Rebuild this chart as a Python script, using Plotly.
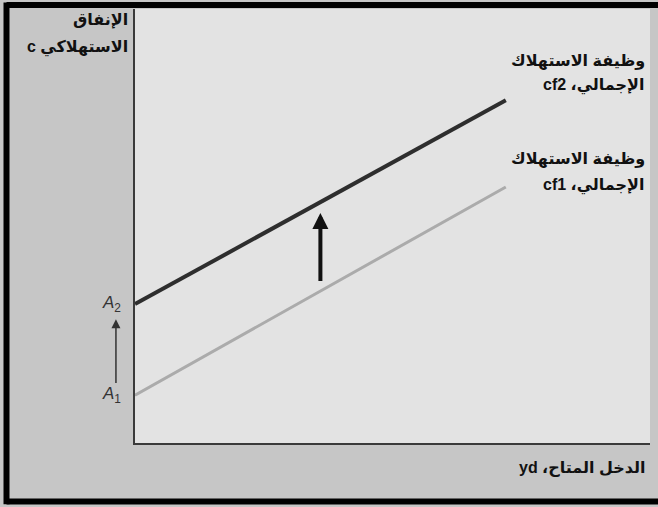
import plotly.graph_objects as go

# Data (arbitrary units: disposable income yd vs consumption c)
income = [0, 72]
cf1 = [11, 59]
cf2 = [32, 79]
shift_x = 36
shift_from = 37
shift_to = 53
A_subs = ["1", "2"]
A_values = [cf1[0], cf2[0]]

RLE, PDF = "\u202b", "\u202c"
label_line1 = "وظيفة الاستهلاك"
label_cf2_line2 = RLE + "الإجمالي، cf2" + PDF
label_cf1_line2 = RLE + "الإجمالي، cf1" + PDF
y_title_1 = "الإنفاق"
y_title_2 = RLE + "الاستهلاكي c" + PDF
x_title = RLE + "الدخل المتاح، yd" + PDF

FONT = "Liberation Sans, DejaVu Sans, sans-serif"
BOLD = dict(family=FONT, size=16, color="#111", weight="bold")

fig = go.Figure()
fig.add_trace(go.Scatter(x=income, y=cf1, mode="lines",
                         line=dict(color="#ababab", width=3), hoverinfo="skip"))
fig.add_trace(go.Scatter(x=income, y=cf2, mode="lines",
                         line=dict(color="#2e2e2e", width=4), hoverinfo="skip"))

ann = []
# upward shift arrow
ann.append(dict(x=shift_x, y=shift_to, ax=shift_x, ay=shift_from, xref="x", yref="y",
                axref="x", ayref="y", text="", showarrow=True, arrowhead=2,
                arrowsize=0.8, arrowwidth=4, arrowcolor="#111"))
# small A1 -> A2 arrow
ann.append(dict(x=-0.037, y=A_values[1] - 3.5, ax=0, ay=A_values[0] + 2.5, xref="paper", yref="y",
                ayref="y", text="", showarrow=True, arrowhead=2, arrowsize=1.2,
                arrowwidth=1.5, arrowcolor="#333"))
for sub, v in zip(A_subs, A_values):
    ann.append(dict(x=-0.068, y=v, xref="paper", yref="y",
                    text="<i>A</i><sub>" + sub + "</sub>",
                    showarrow=False, font=dict(family=FONT, size=17, color="#333")))
# line labels
for txt, yv in [(label_line1, cf2[1] + 9), (label_cf2_line2, cf2[1] + 3.3),
                (label_line1, cf1[1] + 6.5), (label_cf1_line2, cf1[1] + 0.4)]:
    ann.append(dict(x=0.995, y=yv, xref="paper", yref="y", text=txt,
                    xanchor="right", yanchor="middle", align="right", showarrow=False,
                    font=BOLD))
# axis titles
ann.append(dict(x=-0.01, y=0.975, xref="paper", yref="paper", text=y_title_1,
                xanchor="right", yanchor="middle", align="right", showarrow=False, font=BOLD))
ann.append(dict(x=-0.01, y=0.912, xref="paper", yref="paper", text=y_title_2,
                xanchor="right", yanchor="middle", align="right", showarrow=False, font=BOLD))
ann.append(dict(x=0.995, y=-0.058, xref="paper", yref="paper", text=x_title,
                xanchor="right", yanchor="middle", align="right", showarrow=False, font=BOLD))

# outer black frame (left, top, bottom; right side is cut off in the original)
fx0, fx1, fy0, fy1 = -0.2495, 1.1, -0.135, 1.009
frame = dict(color="#000", width=6)
shapes = [
    dict(type="line", xref="paper", yref="paper", x0=fx0, x1=fx0, y0=fy0 - 0.006, y1=fy1 + 0.006, line=frame),
    dict(type="line", xref="paper", yref="paper", x0=fx0, x1=fx1, y0=fy1, y1=fy1, line=frame),
    dict(type="line", xref="paper", yref="paper", x0=fx0, x1=fx1, y0=fy0, y1=fy0, line=frame),
]

fig.update_layout(
    width=658, height=507,
    margin=dict(l=135, r=8, t=9, b=64),
    paper_bgcolor="#c6c6c6", plot_bgcolor="#e3e3e3",
    showlegend=False,
    xaxis=dict(range=[0, 100], showgrid=False, zeroline=False, showticklabels=False,
               ticks="", showline=True, linecolor="#3a3a3a", linewidth=2),
    yaxis=dict(range=[0, 100], showgrid=False, zeroline=False, showticklabels=False,
               ticks="", showline=True, linecolor="#3a3a3a", linewidth=2),
    annotations=ann, shapes=shapes,
)
fig.write_html("out.html", config={"displayModeBar": False},
               post_script="document.body.style.margin='0';"
                           "document.body.style.overflow='hidden';"
                           "document.documentElement.style.overflow='hidden';")
